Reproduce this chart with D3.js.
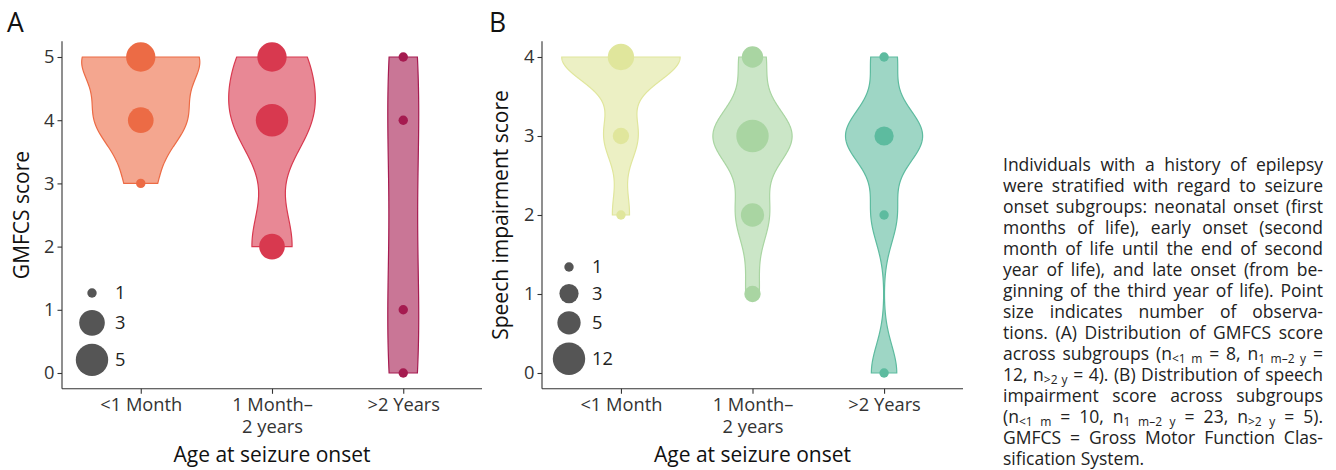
<!DOCTYPE html>
<html><head><meta charset="utf-8">
<script src="https://cdn.jsdelivr.net/npm/d3@7"></script>
<style>
body{margin:0;background:#fff;}
#wrap{position:relative;width:1336px;height:470px;overflow:hidden;background:#fff;}
svg{position:absolute;left:0;top:0;font-family:"Open Sans",sans-serif;}
#cap{position:absolute;left:1003px;top:154px;width:320px;font-family:"Open Sans",sans-serif;font-size:17.5px;line-height:21px;color:#222;}
#cap div{text-align:justify;text-align-last:justify;}
#cap div.last{text-align-last:left;}
#cap sub{font-size:12px;line-height:0;vertical-align:-3px;}
</style>
</head><body>
<div id="wrap"><svg id="chart" width="1336" height="470"></svg>
<div id="cap"></div></div>
<script>
// ---------- data ----------
const categories = ["<1 Month", "1 Month–2 years", ">2 Years"];
const tickLabels = [["<1 Month"], ["1 Month–", "2 years"], [">2 Years"]];
const gmfcsScores = [[3, 4, 5], [2, 4, 5], [0, 1, 4, 5]];
const gmfcsCounts = [[1, 3, 4], [3, 5, 4], [1, 1, 1, 1]];
const speechScores = [[2, 3, 4], [1, 2, 3, 4], [0, 2, 3, 4]];
const speechCounts = [[1, 2, 7], [2, 5, 12, 4], [1, 1, 3, 1]];
const gmfcsTicks = [0, 1, 2, 3, 4, 5];
const speechTicks = [0, 1, 2, 3, 4];
const gmfcsSizeBreaks = [1, 3, 5];
const speechSizeBreaks = [1, 3, 5, 12];
const gmfcsColors = ["#EC6B45", "#D8394F", "#A51B50"];
const speechColors = ["#E0E69C", "#A9D5A2", "#5DBB9F"];
const captionLines = [
  "Individuals with a history of epilepsy",
  "were stratified with regard to seizure",
  "onset subgroups: neonatal onset (first",
  "months of life), early onset (second",
  "month of life until the end of second",
  "year of life), and late onset (from be-",
  "ginning of the third year of life). Point",
  "size indicates number of observa-",
  "tions. (A) Distribution of GMFCS score",
  "across subgroups (n<sub>&lt;1 m</sub> = 8, n<sub>1 m–2 y</sub> =",
  "12, n<sub>&gt;2 y</sub> = 4). (B) Distribution of speech",
  "impairment score across subgroups",
  "(n<sub>&lt;1 m</sub> = 10, n<sub>1 m–2 y</sub> = 23, n<sub>&gt;2 y</sub> = 5).",
  "GMFCS = Gross Motor Function Clas-",
  "sification System."
];

// ---------- helpers ----------
function expand(scores, counts) {
  const out = [];
  scores.forEach((s, i) => { for (let k = 0; k < counts[i]; k++) out.push(s); });
  return out;
}
function bwNrd0(x) {
  const n = x.length;
  const sd = d3.deviation(x);
  const s = x.slice().sort(d3.ascending);
  const iqr = d3.quantileSorted(s, 0.75) - d3.quantileSorted(s, 0.25);
  let lo = Math.min(sd, iqr / 1.34);
  if (!(lo > 0)) lo = sd || Math.abs(s[0]) || 1;
  return 0.9 * lo * Math.pow(n, -0.2);
}
function kde(x) {
  const bw = bwNrd0(x);
  const [mn, mx] = d3.extent(x);
  const n = x.length, pts = [];
  const N = 512;
  for (let i = 0; i < N; i++) {
    const v = mn + (mx - mn) * i / (N - 1);
    let s = 0;
    x.forEach(xi => { const z = (v - xi) / bw; s += Math.exp(-0.5 * z * z); });
    pts.push({ v, d: s / (n * bw * Math.sqrt(2 * Math.PI)) });
  }
  return pts;
}

const svg = d3.select("#chart");
const TICK_FS = "18.3px", TITLE_FS = "21px";

function drawPanel(cfg) {
  const g = svg.append("g");
  const x = d3.scalePoint().domain(categories).range([cfg.left, cfg.right]).padding(0.6);
  const ymax = d3.max(cfg.ticks), ymin = d3.min(cfg.ticks);
  const pad = (ymax - ymin) * 0.05;
  const y = d3.scaleLinear().domain([ymin - pad, ymax + pad]).range([cfg.bottom, cfg.top]);

  // violins
  const groups = categories.map((c, i) => ({
    c, i, raw: expand(cfg.scores[i], cfg.counts[i]),
    pts: cfg.scores[i].map((s, j) => ({ s, n: cfg.counts[i][j] }))
  }));
  groups.forEach(gr => gr.dens = kde(gr.raw));
  const maxD = d3.max(groups, gr => d3.max(gr.dens, p => p.d));
  const halfW = x.step() * 0.45;
  const wScale = d3.scaleLinear().domain([0, maxD]).range([0, halfW]);

  groups.forEach(gr => {
    const cx = x(gr.c);
    const area = d3.area()
      .y(p => y(p.v))
      .x0(p => cx - wScale(p.d))
      .x1(p => cx + wScale(p.d));
    g.append("path").datum(gr.dens).attr("d", area)
      .attr("fill", cfg.colors[gr.i]).attr("fill-opacity", 0.6)
      .attr("stroke", cfg.colors[gr.i]).attr("stroke-width", 1.2);
  });

  // size scale (ggplot area palette style)
  const nExt = d3.extent(groups.flatMap(gr => gr.pts.map(p => p.n)));
  const t = d3.scaleLinear().domain(nExt).range([0, 1]);
  const rLin = d3.scaleLinear().domain([0, 1]).range([4.7, 16.2]);
  const r = n => rLin(Math.sqrt(t(n)));

  groups.forEach(gr => {
    g.selectAll(null).data(gr.pts).enter().append("circle")
      .attr("cx", x(gr.c)).attr("cy", p => y(p.s)).attr("r", p => r(p.n))
      .attr("fill", cfg.colors[gr.i]);
  });

  // axes
  const yAxis = d3.axisLeft(y).tickValues(cfg.ticks).tickFormat(d3.format("d")).tickSize(4.5).tickPadding(3);
  const ya = g.append("g").attr("transform", `translate(${cfg.left},0)`).call(yAxis);
  ya.select(".domain").attr("d", `M0,${cfg.bottom}V${cfg.top}`);
  const xAxis = d3.axisBottom(x).tickSize(5).tickPadding(3.8);
  const xa = g.append("g").attr("transform", `translate(0,${cfg.bottom})`).call(xAxis);
  xa.select(".domain").attr("d", `M${cfg.left},0H${cfg.right}`);
  [ya, xa].forEach(a => {
    a.select(".domain").attr("stroke", "#333").attr("stroke-width", 1.1);
    a.selectAll(".tick line").attr("stroke", "#333").attr("stroke-width", 1.1);
    a.selectAll(".tick text").attr("fill", "#333").style("font-size", TICK_FS).style("font-family", "Open Sans");
  });
  xa.selectAll(".tick text").each(function (d) {
    const tx = d3.select(this);
    tx.text(null);
    tickLabels[categories.indexOf(d)].forEach((ln, k) => {
      tx.append("tspan").attr("x", 0).attr("dy", k === 0 ? "0.71em" : "1.23em").text(ln);
    });
  }).attr("dy", null);

  // titles
  g.append("text").attr("transform", `translate(${cfg.ytitleX},${(cfg.top + cfg.bottom) / 2}) rotate(-90)`)
    .attr("text-anchor", "middle").style("font-size", TITLE_FS).attr("fill", "#111").text(cfg.ylab);
  g.append("text").attr("x", (cfg.left + cfg.right) / 2).attr("y", 461.5)
    .attr("text-anchor", "middle").style("font-size", TITLE_FS).attr("fill", "#111").text("Age at seizure onset");
  g.append("text").attr("x", cfg.labelX).attr("y", 32).style("font-size", "26.5px").attr("fill", "#111").text(cfg.label);

  // size legend
  let yy = cfg.legY;
  let prevH = null;
  cfg.sizeBreaks.forEach(b => {
    const rr = r(b);
    const h = Math.max(2 * rr + 8, 26);
    if (prevH !== null) yy += (prevH + h) / 2;
    prevH = h;
    g.append("circle").attr("cx", cfg.legX).attr("cy", yy).attr("r", rr).attr("fill", "#555");
    g.append("text").attr("x", cfg.legX + 23).attr("y", yy).attr("dy", "0.35em")
      .style("font-size", TICK_FS).attr("fill", "#222").text(b);
  });
}

drawPanel({
  left: 62, right: 482, top: 41.2, bottom: 388.8,
  scores: gmfcsScores, counts: gmfcsCounts, colors: gmfcsColors,
  ticks: gmfcsTicks, sizeBreaks: gmfcsSizeBreaks,
  ylab: "GMFCS score", ytitleX: 29, label: "A", labelX: 7,
  legX: 92, legY: 293
});
drawPanel({
  left: 542, right: 963, top: 41.2, bottom: 388.8,
  scores: speechScores, counts: speechCounts, colors: speechColors,
  ticks: speechTicks, sizeBreaks: speechSizeBreaks,
  ylab: "Speech impairment score", ytitleX: 508, label: "B", labelX: 489,
  legX: 569, legY: 267
});

// caption
const cap = d3.select("#cap");
captionLines.forEach((ln, i) => {
  cap.append("div").attr("class", i === captionLines.length - 1 ? "last" : null).html(ln);
});
</script>
</body></html>
